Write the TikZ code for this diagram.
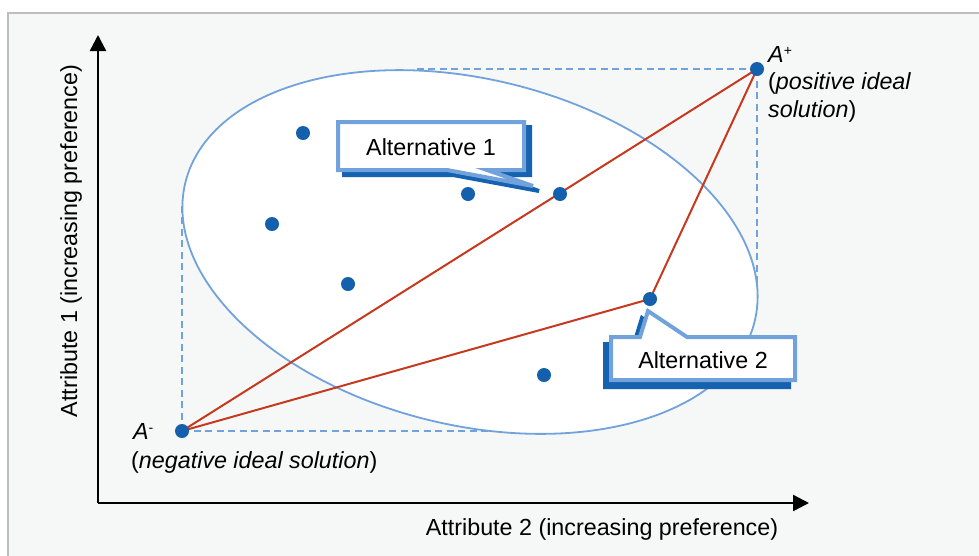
\documentclass[tikz,border=0pt]{standalone}
\usepackage{fontspec}
\setmainfont{Liberation Sans}
\usetikzlibrary{arrows.meta}
\definecolor{lblue}{HTML}{72A2DC}
\definecolor{dblue}{HTML}{1462B0}
\definecolor{dotblue}{HTML}{1560AD}
\definecolor{redc}{HTML}{C7391F}
\definecolor{bgc}{HTML}{F6F8F8}
\definecolor{bordc}{HTML}{BDBDBD}
\newcommand{\supsm}[1]{\raisebox{7pt}{\fontsize{14}{14}\selectfont #1}}
\begin{document}
\begin{tikzpicture}[x=1pt,y=-1pt,
 dot/.style={circle,fill=dotblue,inner sep=0pt,minimum size=14pt},
 redline/.style={draw=redc,line width=2pt},
 dashline/.style={draw=lblue,line width=1.6pt,dash pattern=on 7pt off 4.5pt},
 axis/.style={line width=2.4pt,-{Triangle[length=16pt,width=16pt]}},
 lbl/.style={font=\fontsize{23.3}{27}\selectfont,inner sep=0pt},
 callout/.style={fill=white,draw=lblue,line width=4pt},
 calloutshadow/.style={fill=dblue,draw=dblue,line width=4pt},
 ellipsestyle/.style={draw=lblue,line width=1.8pt,fill=white}]

\useasboundingbox (0,0) rectangle (979,555);
\fill[bgc] (8,13) rectangle (990,570);
\draw[bordc,line width=2pt] (8,570) -- (8,13) -- (990,13);

% coordinates
\coordinate (o) at (98,503);
\coordinate (ytip) at (98,35);
\coordinate (xtip) at (809,503);
\coordinate (cm) at (182,431);
\coordinate (cp) at (757,69);
\coordinate (c1) at (303,133);
\coordinate (c2) at (272,224);
\coordinate (c3) at (348,284);
\coordinate (c4) at (468,194);
\coordinate (c5) at (560,194);
\coordinate (c6) at (544,375);
\coordinate (c7) at (650,299);
\coordinate (dtop) at (413,69);
\coordinate (dright) at (757,300);
\coordinate (dleft) at (182,205);
\coordinate (dbottom) at (530,431);

% axes
\draw[axis] (o) -- (ytip);
\draw[axis] (o) -- (xtip);

% dashed projections
\draw[dashline] (cp) -- (dtop);
\draw[dashline] (cp) -- (dright);
\draw[dashline] (cm) -- (dleft);
\draw[dashline] (cm) -- (dbottom);

% ellipse
\draw[ellipsestyle, rotate around={-13.7:(470,252)}] (470,252) ellipse [x radius=293, y radius=173];

% red lines
\draw[redline] (cm) -- (cp);
\draw[redline] (cm) -- (c7) -- (cp);

% callout 1
\draw[calloutshadow, shift={(6,5)}] (338,122) -- (524,122) -- (524,170) -- (487,170) -- (533,186) -- (447,170) -- (338,170) -- cycle;
\draw[callout] (338,122) -- (524,122) -- (524,170) -- (487,170) -- (533,186) -- (447,170) -- (338,170) -- cycle;
\node[lbl] (alt1) at (431,147) {Alternative 1};

% callout 2
\draw[calloutshadow, shift={(-6,7)}] (611,337) -- (640,337) -- (648,311) -- (687,337) -- (795,337) -- (795,380) -- (611,380) -- cycle;
\draw[callout] (611,337) -- (640,337) -- (648,311) -- (687,337) -- (795,337) -- (795,380) -- (611,380) -- cycle;
\node[lbl] (alt2) at (703,360) {Alternative 2};

% dots
\node[dot] (ap) at (cp) {};
\node[dot] (am) at (cm) {};
\node[dot] (d1) at (c1) {};
\node[dot] (d2) at (c2) {};
\node[dot] (d3) at (c3) {};
\node[dot] (d4) at (c4) {};
\node[dot] (d5) at (c5) {};
\node[dot] (d6) at (c6) {};
\node[dot] (d7) at (c7) {};

% labels
\node[lbl,anchor=base west] (aplus) at (768,62) {\textit{A}\supsm{+}};
\node[lbl,anchor=base west] (aplus2) at (768,89) {(\textit{positive ideal}};
\node[lbl,anchor=base west] (aplus3) at (768,117) {\textit{solution})};
\node[lbl,anchor=base west] (aminus) at (133,439) {\textit{A}\supsm{-}};
\node[lbl,anchor=base west] (aminus2) at (131,468) {(\textit{negative ideal solution})};
\node[lbl,anchor=base] (xlabel) at (602,535) {Attribute 2 (increasing preference)};
\node[lbl,anchor=base,rotate=90] (ylabel) at (77,241) {Attribute 1 (increasing preference)};
\end{tikzpicture}
\end{document}
